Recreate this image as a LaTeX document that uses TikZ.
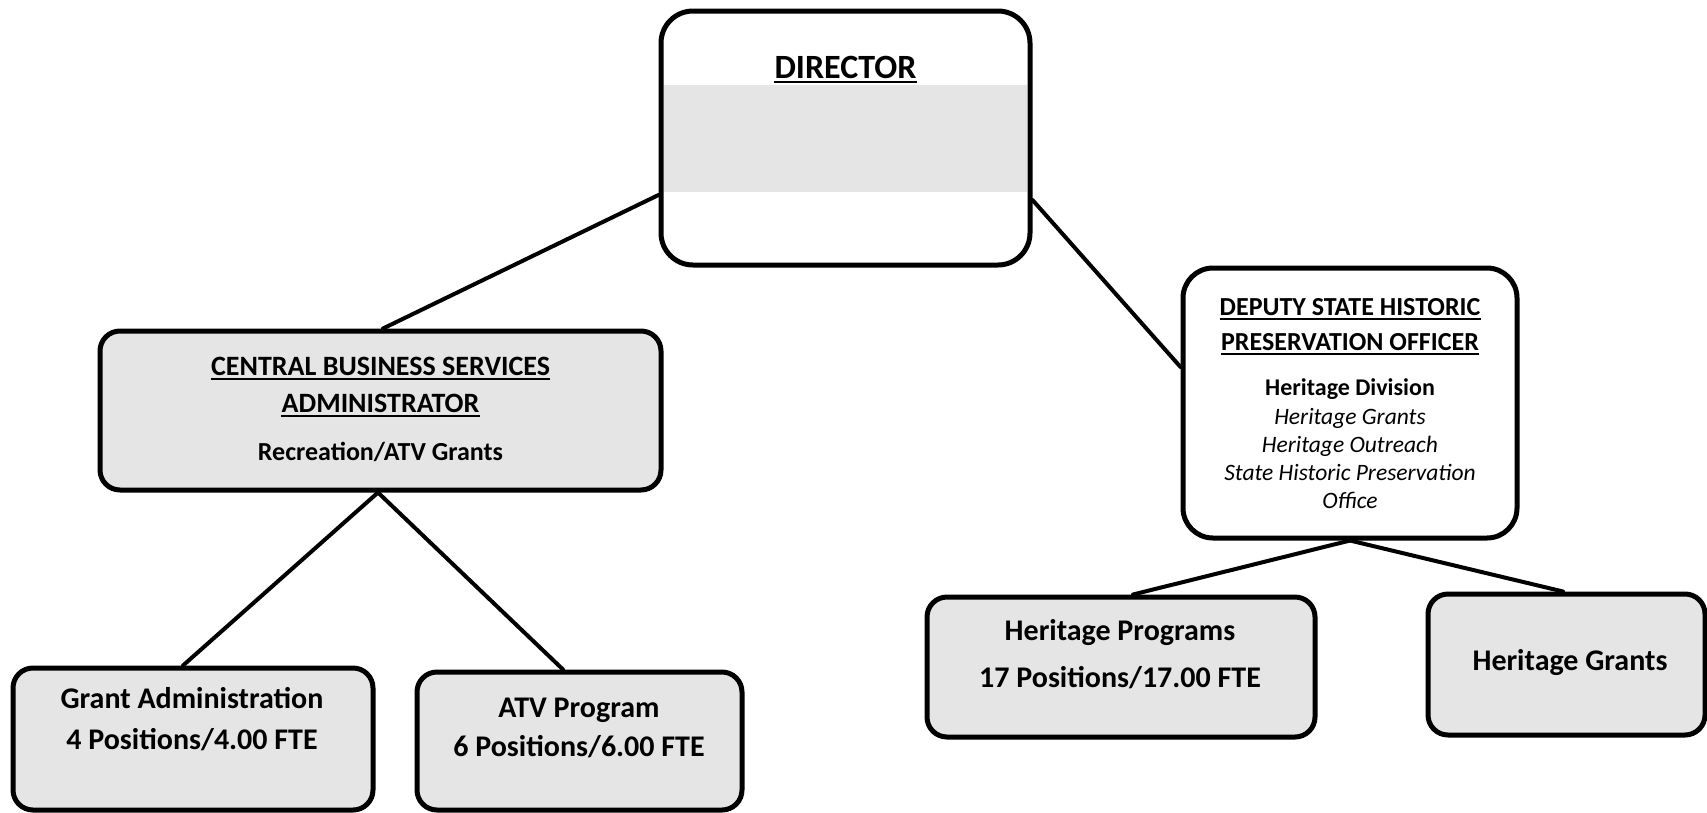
\documentclass[tikz,border=0pt]{standalone}
\usepackage{fontspec}
\setmainfont{Carlito}
\usetikzlibrary{calc}
\definecolor{boxfill}{gray}{0.9}
\tikzset{
  box/.style={draw=black, line width=5pt, rounded corners=#1, inner sep=0pt},
  box/.default=20pt,
  conn/.style={draw=black, line width=4pt, line cap=round},
  txt/.style={inner sep=0pt, anchor=base, font=\bfseries},
  itxt/.style={inner sep=0pt, anchor=base, font=\itshape},
  uline/.style={draw=black, line width=2pt}
}
\newcommand{\ulnode}[1]{\draw[uline] ([yshift=-3.5pt]#1.base west) -- ([yshift=-3.5pt]#1.base east);}
\begin{document}
\begin{tikzpicture}[x=1pt,y=-1pt]
\useasboundingbox (0,0) rectangle (1707,812);
\fill[white] (0,0) rectangle (1707,812);

% shaded band across the director box
\fill[boxfill] (664,85) rectangle (1027,192);

% boxes
\node[box=32pt, minimum width=369pt, minimum height=254pt] (dir) at (845.5,138) {};
\node[box, fill=boxfill, minimum width=561pt, minimum height=159pt] (cbs) at (380.5,410.5) {};
\node[box=30pt, minimum width=334pt, minimum height=270pt] (dshpo) at (1350,403) {};
\node[box, fill=boxfill, minimum width=360pt, minimum height=142pt] (ga) at (193,739) {};
\node[box, fill=boxfill, minimum width=325pt, minimum height=138pt] (atv) at (579.5,741) {};
\node[box, fill=boxfill, minimum width=388pt, minimum height=140pt] (hp) at (1121,667) {};
\node[box, fill=boxfill, minimum width=277pt, minimum height=141pt] (hg) at (1566.5,664.5) {};

% connectors
\draw[conn] ([yshift=-57pt]dir.west) -- ([xshift=2.5pt]cbs.north);
\draw[conn] ([yshift=-62pt]dir.east) -- ([yshift=36pt]dshpo.west);
\draw[conn] ([xshift=-2.5pt]cbs.south) -- ([xshift=-10pt]ga.north);
\draw[conn] ([xshift=-2.5pt]cbs.south) -- ([xshift=-16.5pt]atv.north);
\draw[conn] (dshpo.south) -- ([xshift=12pt]hp.north);
\draw[conn] (dshpo.south) -- ([xshift=-3.5pt]hg.north);

% director
\node[txt, font=\bfseries\fontsize{34}{34}\selectfont] (dirT) at (845.5,78) {DIRECTOR};
\ulnode{dirT}

% central business services
\node[txt, font=\bfseries\fontsize{28}{28}\selectfont] (cbsA) at (380.5,375) {CENTRAL BUSINESS SERVICES};
\node[txt, font=\bfseries\fontsize{28}{28}\selectfont] (cbsB) at (380.5,412) {ADMINISTRATOR};
\node[txt, font=\bfseries\fontsize{26}{26}\selectfont] (cbsC) at (380.5,460) {Recreation/ATV Grants};
\ulnode{cbsA}
\ulnode{cbsB}

% deputy state historic preservation officer
\node[txt, font=\bfseries\fontsize{26}{26}\selectfont] (dsA) at (1350,315) {DEPUTY STATE HISTORIC};
\node[txt, font=\bfseries\fontsize{26}{26}\selectfont] (dsB) at (1350,350) {PRESERVATION OFFICER};
\ulnode{dsA}
\ulnode{dsB}
\node[txt, font=\bfseries\fontsize{24}{24}\selectfont] (dsC) at (1350,395) {Heritage Division};
\node[itxt, font=\itshape\fontsize{23.5}{23.5}\selectfont] (dsD) at (1350,424) {Heritage Grants};
\node[itxt, font=\itshape\fontsize{23.5}{23.5}\selectfont] (dsE) at (1350,452) {Heritage Outreach};
\node[itxt, font=\itshape\fontsize{23.5}{23.5}\selectfont] (dsF) at (1350,480) {State Historic Preservation};
\node[itxt, font=\itshape\fontsize{23.5}{23.5}\selectfont] (dsG) at (1350,508) {Office};

% program boxes
\node[txt, font=\bfseries\fontsize{30}{30}\selectfont] (gaA) at (192,708) {Grant Administration};
\node[txt, font=\bfseries\fontsize{30}{30}\selectfont] (gaB) at (192,749) {4 Positions/4.00 FTE};
\node[txt, font=\bfseries\fontsize{30}{30}\selectfont] (atvA) at (579,717) {ATV Program};
\node[txt, font=\bfseries\fontsize{30}{30}\selectfont] (atvB) at (579,756) {6 Positions/6.00 FTE};
\node[txt, font=\bfseries\fontsize{30}{30}\selectfont] (hpA) at (1120,640) {Heritage Programs};
\node[txt, font=\bfseries\fontsize{30}{30}\selectfont] (hpB) at (1120,687) {17 Positions/17.00 FTE};
\node[txt, font=\bfseries\fontsize{30}{30}\selectfont] (hgA) at (1570,670) {Heritage Grants};
\end{tikzpicture}
\end{document}
